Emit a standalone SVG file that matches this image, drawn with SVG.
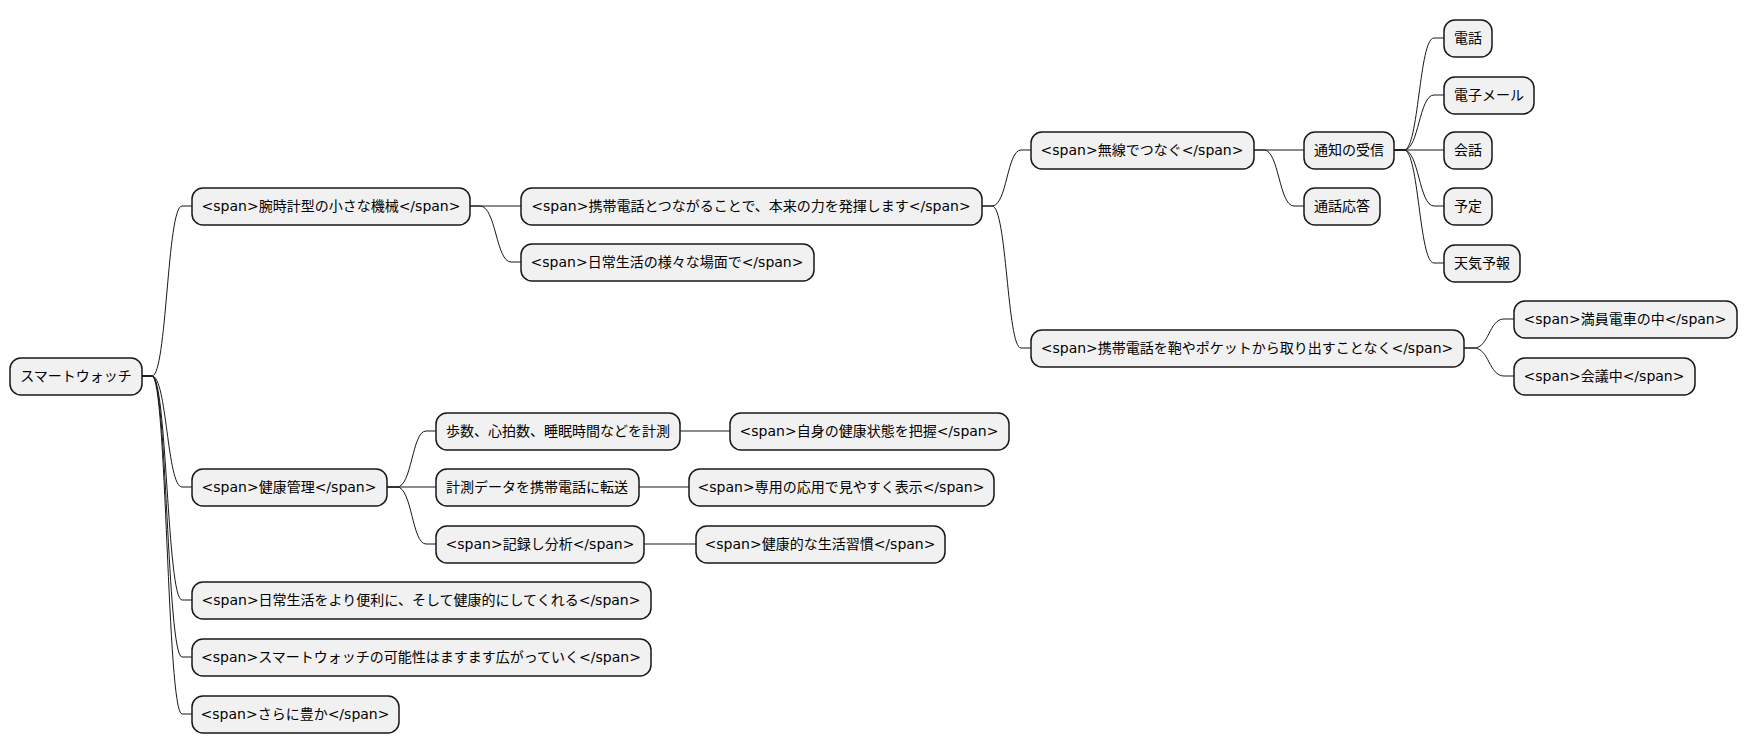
<svg xmlns="http://www.w3.org/2000/svg" width="1748" height="752" viewBox="0 0 1748 752">
<style>
.n rect{fill:#f1f1f1;stroke:#181818;stroke-width:1.5}
.n text{font-family:"DejaVu Sans","Noto Sans CJK JP",sans-serif;font-size:14px;fill:#000;text-anchor:middle;dominant-baseline:central}
.c path{fill:none;stroke:#181818;stroke-width:1}
</style>
<rect width="1748" height="752" fill="#fff"/>
<g class="c">
<path d="M142,376 h10 C167,376 167,206 182,206 H192"/>
<path d="M142,376 h10 C167,376 167,487 182,487 H192"/>
<path d="M142,376 h10 C167,376 167,600 182,600 H192"/>
<path d="M142,376 h10 C167,376 167,657 182,657 H192"/>
<path d="M142,376 h10 C167,376 167,714 182,714 H192"/>
<path d="M470,206 H521"/>
<path d="M470,206 h10 C496,206 496,262 511,262 H521"/>
<path d="M982,206 h10 C1007,206 1007,150 1021,150 H1031"/>
<path d="M982,206 h10 C1007,206 1007,348 1021,348 H1031"/>
<path d="M1254,150 H1304"/>
<path d="M1254,150 h10 C1279,150 1279,206 1294,206 H1304"/>
<path d="M1394,150 h10 C1419,150 1419,38 1434,38 H1444"/>
<path d="M1394,150 h10 C1419,150 1419,95 1434,95 H1444"/>
<path d="M1394,150 H1444"/>
<path d="M1394,150 h10 C1419,150 1419,206 1434,206 H1444"/>
<path d="M1394,150 h10 C1419,150 1419,263 1434,263 H1444"/>
<path d="M1464,348 h10 C1489,348 1489,319 1504,319 H1514"/>
<path d="M1464,348 h10 C1489,348 1489,376 1504,376 H1514"/>
<path d="M387,487 h10 C412,487 412,431 426,431 H436"/>
<path d="M387,487 H436"/>
<path d="M387,487 h10 C412,487 412,544 426,544 H436"/>
<path d="M680,431 H730"/>
<path d="M639,487 H689"/>
<path d="M644,544 H696"/>
</g>
<g id="root" class="n"><rect x="10" y="358" width="132" height="37" rx="11"/><text x="76" y="376">スマートウォッチ</text></g>
<g id="n1" class="n"><rect x="192" y="188" width="278" height="37" rx="11"/><text x="331" y="206">&lt;span&gt;腕時計型の小さな機械&lt;/span&gt;</text></g>
<g id="n2" class="n"><rect x="521" y="188" width="461" height="37" rx="11"/><text x="751" y="206">&lt;span&gt;携帯電話とつながることで、本来の力を発揮します&lt;/span&gt;</text></g>
<g id="n3" class="n"><rect x="521" y="244" width="293" height="37" rx="11"/><text x="667" y="262">&lt;span&gt;日常生活の様々な場面で&lt;/span&gt;</text></g>
<g id="n4" class="n"><rect x="1031" y="132" width="223" height="37" rx="11"/><text x="1142" y="150">&lt;span&gt;無線でつなぐ&lt;/span&gt;</text></g>
<g id="n5" class="n"><rect x="1304" y="132" width="90" height="37" rx="11"/><text x="1349" y="150">通知の受信</text></g>
<g id="n6" class="n"><rect x="1304" y="188" width="76" height="37" rx="11"/><text x="1342" y="206">通話応答</text></g>
<g id="n7" class="n"><rect x="1444" y="20" width="48" height="37" rx="11"/><text x="1468" y="38">電話</text></g>
<g id="n8" class="n"><rect x="1444" y="77" width="90" height="37" rx="11"/><text x="1489" y="95">電子メール</text></g>
<g id="n9" class="n"><rect x="1444" y="132" width="48" height="37" rx="11"/><text x="1468" y="150">会話</text></g>
<g id="n10" class="n"><rect x="1444" y="188" width="48" height="37" rx="11"/><text x="1468" y="206">予定</text></g>
<g id="n11" class="n"><rect x="1444" y="245" width="76" height="37" rx="11"/><text x="1482" y="263">天気予報</text></g>
<g id="n12" class="n"><rect x="1031" y="330" width="433" height="37" rx="11"/><text x="1247" y="348">&lt;span&gt;携帯電話を鞄やポケットから取り出すことなく&lt;/span&gt;</text></g>
<g id="n13" class="n"><rect x="1514" y="301" width="223" height="37" rx="11"/><text x="1625" y="319">&lt;span&gt;満員電車の中&lt;/span&gt;</text></g>
<g id="n14" class="n"><rect x="1514" y="358" width="181" height="37" rx="11"/><text x="1604" y="376">&lt;span&gt;会議中&lt;/span&gt;</text></g>
<g id="n15" class="n"><rect x="192" y="469" width="195" height="37" rx="11"/><text x="289" y="487">&lt;span&gt;健康管理&lt;/span&gt;</text></g>
<g id="n16" class="n"><rect x="436" y="413" width="244" height="37" rx="11"/><text x="558" y="431">歩数、心拍数、睡眠時間などを計測</text></g>
<g id="n17" class="n"><rect x="730" y="413" width="279" height="37" rx="11"/><text x="869" y="431">&lt;span&gt;自身の健康状態を把握&lt;/span&gt;</text></g>
<g id="n18" class="n"><rect x="436" y="469" width="203" height="37" rx="11"/><text x="537" y="487">計測データを携帯電話に転送</text></g>
<g id="n19" class="n"><rect x="689" y="469" width="305" height="37" rx="11"/><text x="841" y="487">&lt;span&gt;専用の応用で見やすく表示&lt;/span&gt;</text></g>
<g id="n20" class="n"><rect x="436" y="526" width="208" height="37" rx="11"/><text x="540" y="544">&lt;span&gt;記録し分析&lt;/span&gt;</text></g>
<g id="n21" class="n"><rect x="696" y="526" width="249" height="37" rx="11"/><text x="820" y="544">&lt;span&gt;健康的な生活習慣&lt;/span&gt;</text></g>
<g id="n22" class="n"><rect x="192" y="582" width="459" height="37" rx="11"/><text x="421" y="600">&lt;span&gt;日常生活をより便利に、そして健康的にしてくれる&lt;/span&gt;</text></g>
<g id="n23" class="n"><rect x="192" y="639" width="459" height="37" rx="11"/><text x="421" y="657">&lt;span&gt;スマートウォッチの可能性はますます広がっていく&lt;/span&gt;</text></g>
<g id="n24" class="n"><rect x="192" y="696" width="207" height="37" rx="11"/><text x="295" y="714">&lt;span&gt;さらに豊か&lt;/span&gt;</text></g>
</svg>
